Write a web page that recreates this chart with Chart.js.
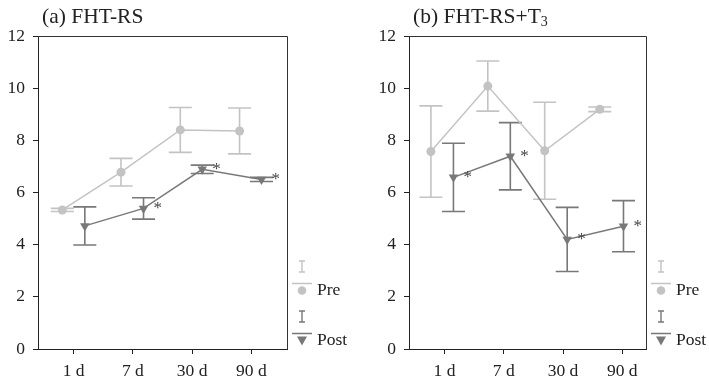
<!DOCTYPE html>
<html>
<head>
<meta charset="utf-8">
<script src="https://cdn.jsdelivr.net/npm/chart.js@4"></script>
<style>
  body { margin: 0; background: #fff; }
  .panel { position: absolute; top: 0; height: 380px; }
</style>
</head>
<body>
<div class="panel" style="left:0;width:360px"><canvas id="chartA" width="360" height="380"></canvas></div>
<div class="panel" style="left:360px;width:349px"><canvas id="chartB" width="349" height="380"></canvas></div>
<script>
// tick labels on the x axis
const days = ["1 d", "7 d", "30 d", "90 d"];
const tickPos = [1, 2, 3, 4];

// (a) FHT-RS
const preXA = [0.81, 1.8, 2.8, 3.8];
const preA = [5.33, 6.78, 8.4, 8.36];
const preErrA = [0.06, 0.53, 0.86, 0.88];
const postXA = [1.19, 2.18, 3.17, 4.17];
const postA = [4.72, 5.39, 6.89, 6.5];
const postErrA = [0.73, 0.41, 0.16, 0.08];
const starsA = [false, true, true, true];

// (b) FHT-RS+T3
const preXB = [0.77, 1.73, 2.69, 3.62];
const preB = [7.57, 10.08, 7.6, 9.19];
const preErrB = [1.75, 0.96, 1.86, 0.09];
const postXB = [1.15, 2.11, 3.07, 4.02];
const postB = [6.58, 7.39, 4.2, 4.71];
const postErrB = [1.31, 1.29, 1.23, 0.98];
const starsB = [true, true, true, true];

const preColor = "#c3c3c3";
const postColor = "#787878";
const ink = "#222";
const serif = "'Liberation Serif', 'DejaVu Serif', serif";

Chart.defaults.font.family = serif;
Chart.defaults.font.size = 17.5;
Chart.defaults.color = ink;

const pts = (xs, ys) => xs.map((x, i) => ({ x, y: ys[i] }));

// error bars, under the markers; asterisks on top
const errorBars = {
  id: "errorBars",
  beforeDatasetsDraw(chart) {
    const { ctx, scales } = chart;
    chart.data.datasets.forEach((ds) => {
      if (!ds.errors) return;
      ctx.save();
      ctx.strokeStyle = ds.borderColor;
      ctx.lineWidth = 1.6;
      ds.data.forEach((p, i) => {
        const x = scales.x.getPixelForValue(p.x);
        const yt = scales.y.getPixelForValue(p.y + ds.errors[i]);
        const yb = scales.y.getPixelForValue(p.y - ds.errors[i]);
        ctx.beginPath();
        ctx.moveTo(x, yt);
        ctx.lineTo(x, yb);
        ctx.moveTo(x - 11.5, yt);
        ctx.lineTo(x + 11.5, yt);
        ctx.moveTo(x - 11.5, yb);
        ctx.lineTo(x + 11.5, yb);
        ctx.stroke();
      });
      ctx.restore();
    });
  },
  afterDatasetsDraw(chart) {
    const { ctx, scales } = chart;
    chart.data.datasets.forEach((ds) => {
      if (!ds.stars) return;
      ctx.save();
      ctx.fillStyle = "#444";
      ctx.font = "17px " + serif;
      ctx.textBaseline = "middle";
      ds.data.forEach((p, i) => {
        if (!ds.stars[i]) return;
        ctx.fillText("*", scales.x.getPixelForValue(p.x) + 10, scales.y.getPixelForValue(p.y));
      });
      ctx.restore();
    });
  },
};

// title, frame and the side legend
const decor = {
  id: "decor",
  afterDraw(chart, args, opts) {
    const { ctx, chartArea: a } = chart;
    ctx.save();
    // top and right frame lines
    ctx.strokeStyle = "#333";
    ctx.lineWidth = 1;
    ctx.beginPath();
    ctx.moveTo(a.left, a.top + 0.5);
    ctx.lineTo(a.right + 0.5, a.top + 0.5);
    ctx.lineTo(a.right + 0.5, a.bottom);
    ctx.stroke();

    // title
    ctx.fillStyle = ink;
    ctx.font = "21.5px " + serif;
    ctx.textBaseline = "alphabetic";
    ctx.fillText(opts.title, opts.titleX, 22.5);
    if (opts.sub) {
      const w = ctx.measureText(opts.title).width;
      ctx.font = "14px " + serif;
      ctx.fillText(opts.sub, opts.titleX + w, 25.5);
    }

    // legend
    const x0 = a.right + 15;
    const items = [
      { label: "Pre", color: preColor, shape: "circle", top: 261 },
      { label: "Post", color: postColor, shape: "triangle", top: 311 },
    ];
    items.forEach((it) => {
      ctx.strokeStyle = it.color;
      ctx.lineWidth = 1.4;
      ctx.beginPath();
      ctx.moveTo(x0, it.top);
      ctx.lineTo(x0, it.top + 11);
      ctx.moveTo(x0 - 3, it.top);
      ctx.lineTo(x0 + 3, it.top);
      ctx.moveTo(x0 - 3, it.top + 11);
      ctx.lineTo(x0 + 3, it.top + 11);
      ctx.moveTo(x0 - 10, it.top + 22.5);
      ctx.lineTo(x0 + 10, it.top + 22.5);
      ctx.stroke();
      ctx.fillStyle = it.color;
      const my = it.top + 29.5;
      ctx.beginPath();
      if (it.shape === "circle") {
        ctx.arc(x0, my, 4.3, 0, Math.PI * 2);
      } else {
        ctx.moveTo(x0 - 5, my - 4);
        ctx.lineTo(x0 + 5, my - 4);
        ctx.lineTo(x0, my + 5);
        ctx.closePath();
      }
      ctx.fill();
      ctx.fillStyle = ink;
      ctx.font = "17.5px " + serif;
      ctx.textBaseline = "middle";
      ctx.fillText(it.label, x0 + 15, my);
    });
    ctx.restore();
  },
};

const makeChart = (id, o) =>
  new Chart(document.getElementById(id), {
    type: "line",
    data: {
      datasets: [
        {
          label: "Pre",
          data: pts(o.preX, o.pre),
          errors: o.preErr,
          borderColor: preColor,
          backgroundColor: preColor,
          borderWidth: 1.5,
          pointStyle: "circle",
          pointRadius: 4.5,
          pointBorderWidth: 0,
        },
        {
          label: "Post",
          data: pts(o.postX, o.post),
          errors: o.postErr,
          stars: o.stars,
          borderColor: postColor,
          backgroundColor: postColor,
          borderWidth: 1.5,
          pointStyle: "triangle",
          rotation: 180,
          pointRadius: 5.5,
          pointBorderWidth: 0,
        },
      ],
    },
    options: {
      responsive: false,
      animation: false,
      layout: { padding: { top: 36, right: o.padRight, left: 0, bottom: 0 } },
      plugins: {
        legend: { display: false },
        tooltip: { enabled: false },
        decor: { title: o.title, sub: o.sub, titleX: o.titleX },
      },
      scales: {
        x: {
          type: "linear",
          min: 0.4,
          max: o.xMax,
          afterBuildTicks: (s) => {
            s.ticks = tickPos.map((v) => ({ value: v }));
          },
          afterFit: (s) => {
            s.height = 31;
          },
          ticks: {
            padding: 7,
            callback: (v) => days[tickPos.indexOf(v)],
            maxRotation: 0,
          },
          grid: { drawOnChartArea: false, tickLength: 5, color: ink },
          border: { color: ink, width: 1 },
        },
        y: {
          min: 0,
          max: 12,
          afterFit: (s) => {
            s.width = o.yWidth;
          },
          ticks: { stepSize: 2, padding: 8 },
          grid: { drawOnChartArea: false, tickLength: 5, color: ink },
          border: { color: ink, width: 1 },
        },
      },
    },
    plugins: [errorBars, decor],
  });

makeChart("chartA", {
  preX: preXA, pre: preA, preErr: preErrA,
  postX: postXA, post: postA, postErr: postErrA, stars: starsA,
  title: "(a) FHT-RS", titleX: 42, xMax: 4.6, padRight: 73, yWidth: 38,
});
makeChart("chartB", {
  preX: preXB, pre: preB, preErr: preErrB,
  postX: postXB, post: postB, postErr: postErrB, stars: starsB,
  title: "(b) FHT-RS+T", sub: "3", titleX: 53, xMax: 4.4, padRight: 63, yWidth: 49,
});
</script>
</body>
</html>
